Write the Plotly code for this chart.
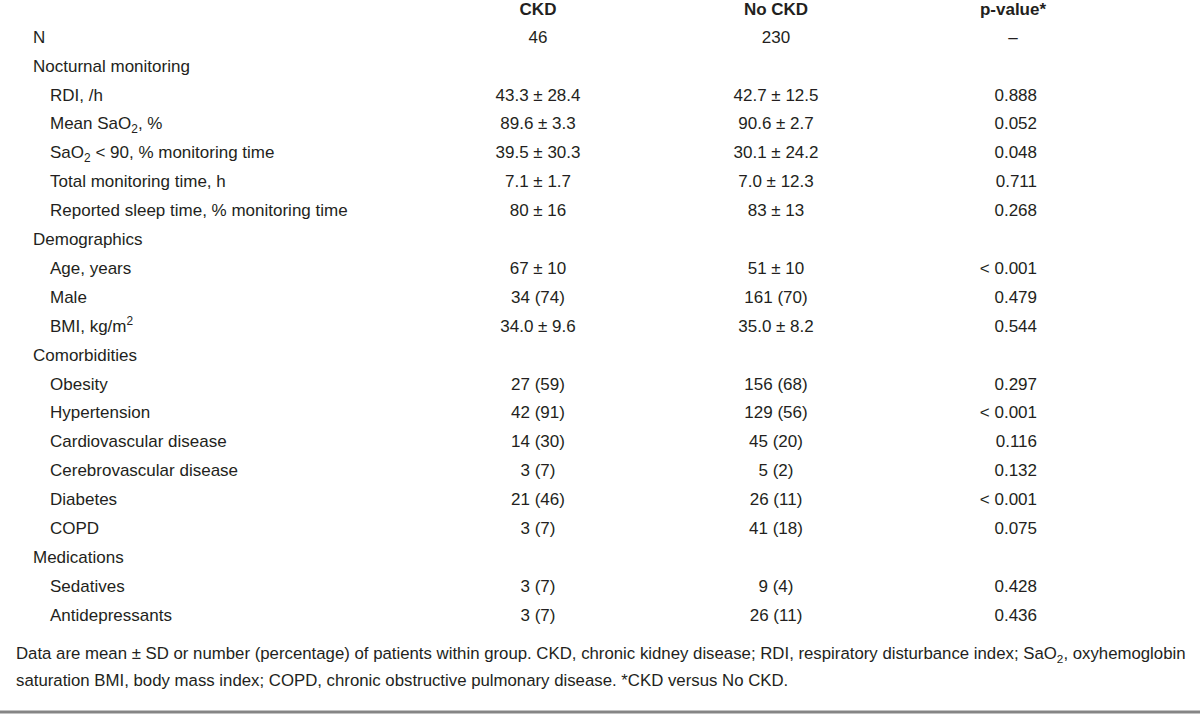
import plotly.graph_objects as go

# ---- data ----
headers = ["CKD", "No CKD", "p-value*"]
row_labels = [
    "N",
    "Nocturnal monitoring",
    "RDI, /h",
    "Mean SaO<sub>2</sub>, %",
    "SaO<sub>2</sub> < 90, % monitoring time",
    "Total monitoring time, h",
    "Reported sleep time, % monitoring time",
    "Demographics",
    "Age, years",
    "Male",
    "BMI, kg/m<sup>2</sup>",
    "Comorbidities",
    "Obesity",
    "Hypertension",
    "Cardiovascular disease",
    "Cerebrovascular disease",
    "Diabetes",
    "COPD",
    "Medications",
    "Sedatives",
    "Antidepressants",
]
indented = [0, 0, 1, 1, 1, 1, 1, 0, 1, 1, 1, 0, 1, 1, 1, 1, 1, 1, 0, 1, 1]
ckd = ["46", "", "43.3 ± 28.4", "89.6 ± 3.3", "39.5 ± 30.3", "7.1 ± 1.7", "80 ± 16",
       "", "67 ± 10", "34 (74)", "34.0 ± 9.6",
       "", "27 (59)", "42 (91)", "14 (30)", "3 (7)", "21 (46)", "3 (7)",
       "", "3 (7)", "3 (7)"]
no_ckd = ["230", "", "42.7 ± 12.5", "90.6 ± 2.7", "30.1 ± 24.2", "7.0 ± 12.3", "83 ± 13",
          "", "51 ± 10", "161 (70)", "35.0 ± 8.2",
          "", "156 (68)", "129 (56)", "45 (20)", "5 (2)", "26 (11)", "41 (18)",
          "", "9 (4)", "26 (11)"]
p_values = ["–", "", "0.888", "0.052", "0.048", "0.711", "0.268",
            "", "< 0.001", "0.479", "0.544",
            "", "0.297", "< 0.001", "0.116", "0.132", "< 0.001", "0.075",
            "", "0.428", "0.436"]
footnote = [
    "Data are mean ± SD or number (percentage) of patients within group. CKD, chronic kidney disease; RDI, respiratory disturbance index; SaO<sub>2</sub>, oxyhemoglobin",
    "saturation BMI, body mass index; COPD, chronic obstructive pulmonary disease. *CKD versus No CKD.",
]

# ---- layout constants ----
W, H = 1200, 714
FONT = "Liberation Sans, Arial, sans-serif"
FS = 17
FOOT_FS = 16.8
COLOR = "#231f20"
HEADER_Y = 11
ROW0 = 38.5
ROW_H = 28.9
X_LABEL, X_INDENT = 33, 50
X_CKD, X_NOCKD, X_P_RIGHT, X_P_CENTER = 538, 776, 1037, 1013
FOOT_X, FOOT_Y0, FOOT_DY = 16, 655, 26.5

row_y = [ROW0 + i * ROW_H for i in range(len(row_labels))]

fig = go.Figure()


def txt(size=FS):
    return dict(mode="text", hoverinfo="skip", showlegend=False, cliponaxis=False,
                textfont=dict(family=FONT, size=size, color=COLOR))


def column(xpos, ys, texts, pos):
    pairs = [(y, t) for y, t in zip(ys, texts) if t]
    fig.add_trace(go.Scatter(x=[xpos] * len(pairs), y=[p[0] for p in pairs],
                             text=[p[1] for p in pairs], textposition=pos, **txt()))


# headers
fig.add_trace(go.Scatter(x=[X_CKD, X_NOCKD, X_P_CENTER], y=[HEADER_Y] * 3,
                         text=[f"<b>{h}</b>" for h in headers],
                         textposition="middle center", **txt()))
# labels
fig.add_trace(go.Scatter(x=[X_INDENT if ind else X_LABEL for ind in indented], y=row_y,
                         text=row_labels, textposition="middle right", **txt()))
# CKD / No CKD columns
column(X_CKD, row_y, ckd, "middle center")
column(X_NOCKD, row_y, no_ckd, "middle center")
# p-values: numbers right-aligned, dash centred
column(X_P_RIGHT, row_y, [p if p != "–" else "" for p in p_values], "middle left")
column(X_P_CENTER, row_y, [p if p == "–" else "" for p in p_values], "middle center")
# footnote
fig.add_trace(go.Scatter(x=[FOOT_X] * len(footnote),
                         y=[FOOT_Y0 + i * FOOT_DY for i in range(len(footnote))],
                         text=footnote, textposition="middle right", **txt(FOOT_FS)))

fig.add_shape(type="line", x0=0, x1=W, y0=712, y1=712,
              line=dict(color="#858585", width=3), xref="x", yref="y")

fig.update_layout(
    width=W, height=H, margin=dict(l=0, r=0, t=0, b=0),
    paper_bgcolor="white", plot_bgcolor="white",
    xaxis=dict(range=[0, W], visible=False, fixedrange=True),
    yaxis=dict(range=[H, 0], visible=False, fixedrange=True),
)
fig.write_html("out.html", config={"displayModeBar": False},
               post_script="document.body.style.margin='0';document.body.style.overflow='hidden';")
